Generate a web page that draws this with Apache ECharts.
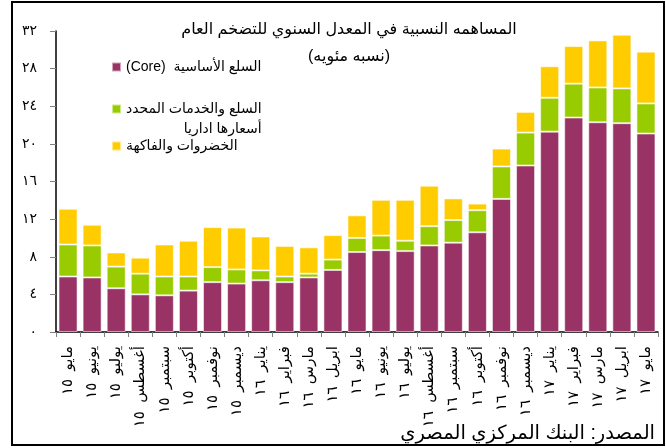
<!DOCTYPE html>
<html><head><meta charset="utf-8">
<script src="https://cdn.jsdelivr.net/npm/echarts@6/dist/echarts.min.js"></script>
<style>html,body{margin:0;padding:0;background:#fff}#c{width:666px;height:448px}</style>
</head><body><div id="c"></div>
<script>
const categories = ['مايو  ١٥','يونيو  ١٥','يوليو  ١٥','أغسطس  ١٥','سبتمبر  ١٥','أكتوبر  ١٥','نوفمبر  ١٥','ديسمبر  ١٥',
  'يناير  ١٦','فبراير  ١٦','مارس  ١٦','ابريل  ١٦','مايو  ١٦','يونيو  ١٦','يوليو  ١٦','أغسطس  ١٦','سبتمبر  ١٦','أكتوبر  ١٦','نوفمبر  ١٦','ديسمبر  ١٦',
  'يناير  ١٧','فبراير  ١٧','مارس  ١٧','ابريل  ١٧','مايو  ١٧'];
const core =        [5.9, 5.8, 4.65, 4.0, 3.9, 4.4, 5.3, 5.15, 5.5, 5.3, 5.8, 6.6, 8.5, 8.7, 8.6, 9.2, 9.5, 10.6, 14.15, 17.7, 21.3, 22.8, 22.3, 22.2, 21.1];
const administered = [3.4, 3.4, 2.3, 2.2, 2.0, 1.5, 1.6, 1.5, 1.05, 0.6, 0.4, 1.1, 1.5, 1.55, 1.1, 2.05, 2.4, 2.35, 3.45, 3.5, 3.6, 3.6, 3.7, 3.7, 3.2];
const fruitsVeg =   [3.8, 2.2, 1.5, 1.7, 3.4, 3.8, 4.25, 4.45, 3.6, 3.25, 2.8, 2.6, 2.4, 3.8, 4.35, 4.3, 2.3, 0.7, 1.9, 2.2, 3.35, 4.0, 5.0, 5.7, 5.5];
const yTickLabels = ['٠','٤','٨','١٢','١٦','٢٠','٢٤','٢٨','٣٢'];
const seriesNames = ['(Core)  السلع الأساسية', 'السلع والخدمات المحدد أسعارها اداريا', 'الخضروات والفاكهة'];
const titleText = 'المساهمه النسبية في المعدل السنوي للتضخم العام\n(نسبه مئويه)';
const sourceText = 'المصدر: البنك المركزي المصري';
const colors = ['#993366', '#99CC00', '#FFCC00'];

const FONT = '"Liberation Sans", Arial, "DejaVu Sans", sans-serif';
const chart = echarts.init(document.getElementById('c'), null, {renderer: 'canvas'});
const legendText = {fontFamily: FONT, fontSize: 14, color: '#000'};
function mkSeries(i, data) {
  return {
    name: seriesNames[i], type: 'bar', stack: 'a', data: data,
    barCategoryGap: '21%',
    itemStyle: {color: colors[i], borderColor: 'rgba(255,255,255,0.55)', borderWidth: 1},
    emphasis: {disabled: true}
  };
}
chart.setOption({
  animation: false,
  backgroundColor: '#fff',
  title: [
    {text: titleText, left: 349, top: 16, textAlign: 'center', padding: 0,
     textStyle: {fontFamily: FONT, fontSize: 16, fontWeight: 'normal', color: '#000', lineHeight: 27}},
    {text: sourceText, right: 11, bottom: 4, padding: 0,
     textStyle: {fontFamily: FONT, fontSize: 19.5, fontWeight: 'normal', color: '#000'}}
  ],
  legend: [
    {data: [seriesNames[0]], left: 111, top: 60, orient: 'vertical', padding: 0, icon: 'rect', itemWidth: 9, itemHeight: 9, textStyle: legendText, selectedMode: false},
    {data: [seriesNames[1]], left: 111, top: 102, orient: 'vertical', padding: 0, icon: 'rect', itemWidth: 9, itemHeight: 9, selectedMode: false,
     formatter: function () { return '{l|السلع والخدمات المحدد}\n{r|أسعارها اداريا}'; },
     textStyle: Object.assign({}, legendText, {padding: [20, 0, 0, 0], rich: {
       l: {fontFamily: FONT, fontSize: 14, color: '#000', lineHeight: 20},
       r: {fontFamily: FONT, fontSize: 14, color: '#000', lineHeight: 20, width: 134, align: 'right'}}})},
    {data: [seriesNames[2]], left: 111, top: 139, orient: 'vertical', padding: 0, icon: 'rect', itemWidth: 9, itemHeight: 9, textStyle: legendText, selectedMode: false}
  ],
  grid: {left: 56, right: 8, top: 31, bottom: 116, containLabel: false},
  xAxis: {
    type: 'category', data: categories, boundaryGap: true,
    axisLine: {lineStyle: {color: '#000', width: 1.5}},
    axisTick: {show: true, length: 5, lineStyle: {color: '#808080'}, alignWithLabel: false},
    axisLabel: {rotate: 90, interval: 0, margin: 14, fontFamily: FONT, fontSize: 15, color: '#000'}
  },
  yAxis: {
    type: 'value', min: 0, max: 32, interval: 4,
    splitLine: {show: false},
    axisLine: {show: true, lineStyle: {color: '#000', width: 1.5}},
    axisTick: {show: true, length: 6, lineStyle: {color: '#808080'}},
    axisLabel: {margin: 19, fontFamily: FONT, fontSize: 14, color: '#000',
      formatter: function (v) { return yTickLabels[Math.round(v / 4)]; }}
  },
  series: [mkSeries(0, core), mkSeries(1, administered), mkSeries(2, fruitsVeg)],
  graphic: [{type: 'rect', shape: {x: 12, y: 2, width: 652, height: 443}, style: {fill: 'none', stroke: '#000', lineWidth: 2}, silent: true, z: 100}]
});
</script></body></html>
